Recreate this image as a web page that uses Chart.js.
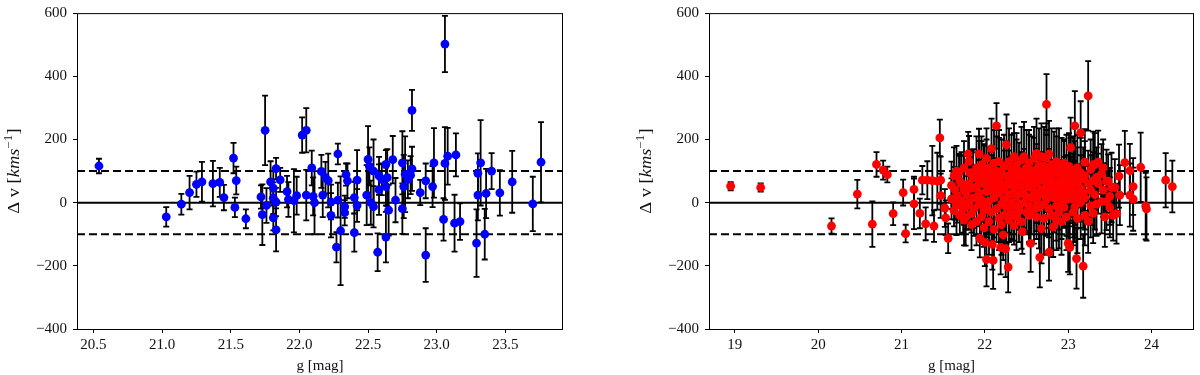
<!DOCTYPE html>
<html>
<head>
<meta charset="utf-8">
<script src="https://cdn.jsdelivr.net/npm/chart.js@4.4.1/dist/chart.umd.min.js"></script>
<style>
  html, body { margin: 0; padding: 0; background: #fff; }
  #wrap { position: relative; width: 1200px; height: 375px; }
  .panel { position: absolute; top: 0; width: 600px; height: 375px; }
</style>
</head>
<body>
<div id="wrap">
  <div class="panel" style="left:0"><canvas id="leftChart" width="600" height="375"></canvas></div>
  <div class="panel" style="left:600px"><canvas id="rightChart" width="600" height="375"></canvas></div>
</div>
<script>
// ── DATA ─────────────────────────────────────────
// left panel: g magnitude, velocity offset, error (km/s)
const gBlue = [
  20.54, 21.03, 21.14, 21.20, 21.25, 21.29, 21.37, 21.42, 21.45, 21.52,
  21.54, 21.53, 21.61, 21.75, 21.72, 21.73, 21.76, 21.79, 21.81, 21.81,
  21.81, 21.83, 21.83, 21.83, 21.86, 21.91, 21.92, 21.96, 21.98, 22.02,
  22.05, 22.05, 22.09, 22.10, 22.11, 22.16, 22.17, 22.19, 22.21, 22.23,
  22.23, 22.27, 22.28, 22.28, 22.30, 22.33, 22.33, 22.34, 22.35, 22.40,
  22.40, 22.42, 22.42, 22.50, 22.49, 22.51, 22.52, 22.54, 22.54, 22.57,
  22.58, 22.58, 22.60, 22.63, 22.63, 22.64, 22.63, 22.65, 22.68, 22.70,
  22.75, 22.75, 22.76, 22.77, 22.79, 22.81, 22.82, 22.82, 22.88, 22.92,
  22.92, 22.97, 22.98, 23.06, 23.06, 23.05, 23.08, 23.13, 23.14, 23.17,
  23.29, 23.30, 23.30, 23.32, 23.35, 23.36, 23.40, 23.46, 23.55, 23.70,
  23.76
];
const dvBlue = [
  116, -45, -5, 32, 58, 66, 60, 64, 16, 141,
  70, -15, -51, 229, 18, -38, -9, 66, 46, 14,
  -48, 108, 2, -86, 72, 35, 10, 6, 22, 214,
  229, 24, 110, 20, 0, 99, 24, 79, 70, -40,
  2, -141, 154, 8, -89, -13, -32, 89, 69, 16,
  -95, 71, -9, 137, 24, 115, 0, 100, -13, -157,
  85, 41, 74, 121, 51, 79, -109, -24, 136, 8,
  126, -19, 51, 90, 74, 87, 292, 107, 32, 69,
  -166, 51, 126, 502, 124, -53, 147, -65, 151, -60,
  -128, 93, 24, 126, -100, 29, 100, 31, 66, -4,
  128
];
const errBlue = [
  23, 31, 33, 53, 40, 63, 72, 46, 40, 48,
  44, 31, 30, 110, 37, 96, 55, 65, 55, 50,
  40, 34, 45, 68, 38, 50, 55, 100, 60, 56,
  70, 80, 55, 60, 100, 52, 70, 50, 85, 70,
  55, 48, 33, 55, 172, 35, 40, 35, 55, 50,
  60, 95, 52, 105, 95, 60, 70, 100, 65, 60,
  60, 80, 50, 45, 60, 90, 80, 80, 75, 70,
  100, 80, 100, 120, 60, 60, 65, 70, 40, 55,
  85, 65, 110, 89, 115, 67, 90, 90, 68, 58,
  107, 63, 80, 135, 80, 78, 57, 72, 98, 86,
  127
];

// right panel
const gRed = [
  18.95, 19.31, 20.16, 20.47, 20.65, 20.70, 20.78, 20.83, 20.90, 21.02,
  21.05, 21.15, 21.15, 21.22, 21.29, 21.39, 21.25, 21.31, 21.37, 21.43,
  21.46, 21.47, 21.47, 21.52, 21.53, 21.56, 21.69, 21.70, 21.64, 21.67,
  21.64, 21.74, 21.70, 21.77, 21.80, 21.81, 21.94, 21.90, 21.86, 21.82,
  21.60, 21.60, 21.63, 21.63, 21.66, 21.66, 21.72, 21.72, 21.75, 21.75,
  21.75, 21.78, 21.78, 21.81, 21.81, 21.84, 21.84, 21.84, 21.84, 21.87,
  21.87, 21.90, 21.90, 21.90, 21.93, 21.93, 21.93, 21.93, 21.96, 21.96,
  21.96, 21.96, 21.99, 21.99, 21.99, 21.99, 22.00, 22.02, 22.02, 22.02,
  22.02, 22.02, 22.05, 22.05, 22.05, 22.05, 22.08, 22.08, 22.08, 22.08,
  22.09, 22.11, 22.11, 22.11, 22.11, 22.14, 22.14, 22.14, 22.14, 22.10,
  22.17, 22.17, 22.17, 22.17, 22.20, 22.20, 22.20, 22.20, 22.19, 22.23,
  22.23, 22.23, 22.23, 22.22, 22.26, 22.26, 22.26, 22.26, 22.25, 22.29,
  22.29, 22.29, 22.29, 22.28,
  22.32, 22.32, 22.32, 22.32, 22.35, 22.35, 22.35, 22.35, 22.35, 22.38,
  22.38, 22.38, 22.38, 22.41, 22.41, 22.41, 22.41, 22.44, 22.44, 22.44,
  22.44, 22.47, 22.47, 22.47, 22.47, 22.45, 22.50, 22.50, 22.50, 22.50,
  22.53, 22.53, 22.53, 22.53, 22.53, 22.56, 22.56, 22.56, 22.55, 22.59,
  22.59, 22.59, 22.59, 22.62, 22.62, 22.62, 22.62, 22.62, 22.65, 22.65,
  22.65, 22.65, 22.66, 22.68, 22.68, 22.68, 22.68, 22.71, 22.71, 22.71,
  22.71, 22.71, 22.74, 22.74, 22.74, 22.74, 22.74, 22.77, 22.77, 22.77,
  22.77, 22.77, 22.80, 22.80, 22.80, 22.80, 22.83, 22.83, 22.83, 22.82,
  22.86, 22.86, 22.86, 22.86, 22.86, 22.89, 22.89, 22.89, 22.89, 22.92,
  22.92, 22.92, 22.92, 22.95, 22.95, 22.95, 22.95, 22.98, 22.98, 22.98,
  22.98,
  23.00, 23.01, 23.01, 23.01, 23.02, 23.03, 23.03, 23.03, 23.06, 23.06,
  23.06, 23.06, 23.08, 23.08, 23.08, 23.08, 23.10, 23.11, 23.11, 23.11,
  23.11, 23.15, 23.15, 23.15, 23.15, 23.18, 23.18, 23.18, 23.20, 23.20,
  23.20, 23.20, 23.24, 23.24, 23.24, 23.27, 23.27, 23.27, 23.30, 23.30,
  23.30, 23.32, 23.32, 23.34, 23.34, 23.36, 23.36, 23.40, 23.40, 23.42,
  23.42, 23.44, 23.46, 23.46, 23.48, 23.50, 23.50, 23.52, 23.54, 23.56,
  23.58, 23.61, 23.62, 23.68, 23.74, 23.74, 23.78, 23.78, 23.87, 23.93,
  23.94, 24.17, 24.25
];
const dvRed = [
  52, 48, -74, 27, -68, 121, 103, 89, -35, 32,
  -98, 42, -4, -34, -67, -74, 71, 71, 70, 68,
  205, 71, 22, -17, -48, -113, 94, 68, 42, 22,
  6, -20, -40, -46, 154, 131, -113, 89, 79, 94,
  55, 12, 85, -25, 100, -8, 60, 5, 110, 40,
  -55, 25, -10, 60, 0, 95, 45, -35, -70, 15,
  -20, 110, 50, -60, 154, 70, 30, -5, 120, 85,
  10, -45, 60, 100, -25, -80, -126, 140, 75, 35,
  -10, -180, 110, 55, 5, -60, 171, 90, 40, -30,
  -132, 125, 70, 15, -85, 243, 100, 50, -20, -183,
  130, 80, 30, -50, 95, 60, -5, -70, -142, 115,
  40, 10, -40, -102, 184, 85, 55, -15, -146, 130,
  70, 25, -55, -204,
  105, 60, 0, -35, 146, 90, 40, -10, -73, 120,
  75, 20, -45, 100, 55, -5, -25, 135, 80, 30,
  -61, 146, 95, 45, 0, -92, 110, 65, 20, -30,
  125, 85, 50, -10, -40, 100, 60, 15, -129, 140,
  80, 35, -20, 156, 105, 60, 5, -45, 120, 70,
  25, -15, -173, 146, 90, 40, -82, 115, 75, 30,
  -5, -50, 311, 141, 100, 55, 10, 154, 85, 45,
  -20, -157, 120, 70, 25, -40, 100, 60, 15, -77,
  130, 90, 40, -10, -55, 110, 65, 20, -30, 95,
  50, 5, -60, 125, 80, 35, -15, 105, 60, 10,
  -45,
  -129, 115, 70, 25, -142, 174, 90, 40, 100, 55,
  10, -30, 243, 80, 30, -15, -177, 110, 60, 20,
  -50, 221, 95, 45, 0, 75, 30, -201, 128, 85,
  15, -40, 338, 60, -59, 105, 40, -10, 120, 70,
  -33, 120, 25, 80, -5, 128, 60, 3, 90, 40,
  110, -45, 3, 68, 68, 20, -15, 48, -40, 48,
  -35, 84, 24, 127, 101, 24, 51, 11, 112, -11,
  -20, 71, 51
];
const errRed = [
  13, 13, 24, 45, 72, 39, 30, 25, 36, 41,
  28, 40, 80, 47, 52, 50, 45, 60, 110, 90,
  58, 75, 70, 60, 55, 47, 60, 80, 70, 85,
  60, 75, 60, 90, 70, 80, 60, 70, 90, 65,
  75, 65, 90, 50, 80, 95, 100, 60, 85, 110,
  80, 110, 55, 95, 85, 70, 120, 60, 80, 95,
  85, 100, 60, 75, 80, 125, 105, 55, 90, 110,
  65, 80, 120, 85, 105, 60, 75, 95, 125, 70,
  100, 85, 65, 115, 95, 105, 95, 60, 120, 90,
  80, 105, 70, 125, 95, 72, 110, 65, 105, 90,
  100, 125, 70, 100, 105, 60, 120, 95, 85, 100,
  125, 65, 105, 80, 95, 110, 60, 115, 90, 105,
  95, 120, 70, 80,
  110, 65, 120, 80, 105, 130, 70, 110, 60, 100,
  125, 55, 105, 90, 70, 120, 60, 105, 75, 130,
  85, 110, 60, 125, 95, 70, 120, 80, 110, 65,
  105, 130, 70, 120, 85, 110, 60, 115, 90, 100,
  125, 75, 110, 110, 65, 125, 95, 70, 115, 80,
  110, 130, 95, 105, 60, 120, 110, 125, 70, 110,
  95, 115, 96, 110, 130, 65, 115, 105, 75, 125,
  90, 90, 115, 60, 110, 105, 125, 70, 110, 95,
  105, 120, 65, 110, 95, 125, 70, 105, 115, 110,
  60, 120, 105, 75, 115, 110, 65, 110, 90, 115,
  105,
  90, 105, 110, 100, 85, 95, 115, 105, 110, 100,
  120, 105, 110, 115, 100, 110, 95, 105, 115, 100,
  110, 100, 110, 105, 115, 100, 110, 100, 105, 110,
  100, 95, 110, 105, 100, 95, 110, 100, 105, 90,
  95, 100, 110, 95, 100, 100, 95, 100, 95, 85,
  90, 95, 90, 100, 85, 90, 95, 110, 80, 90,
  95, 100, 95, 100, 85, 100, 90, 100, 110, 105,
  100, 86, 82
];

// axes
const xTicksLeft  = [20.5, 21.0, 21.5, 22.0, 22.5, 23.0, 23.5];
const xTicksRight = [19, 20, 21, 22, 23, 24];
const yTicks      = [-400, -200, 0, 200, 400, 600];
const xRangeLeft  = [20.38, 23.92];
const xRangeRight = [18.69, 24.51];
const yRange      = [-400, 600];
const solidLevels  = [0];
const dashedLevels = [100, -100];

const FONT = "'Liberation Serif', 'DejaVu Serif', serif";

// ── PLUGINS ───────────────────────────────────────
// vertical error bars with caps, drawn right before the marker dataset
const errorBars = {
  id: 'errorBars',
  beforeDatasetDraw(chart, args) {
    const ds = chart.data.datasets[args.index];
    if (!ds.errs) return;
    const { ctx, chartArea: a, scales: { x, y } } = chart;
    ctx.save();
    ctx.beginPath();
    ctx.rect(a.left, a.top, a.right - a.left, a.bottom - a.top);
    ctx.clip();
    ctx.strokeStyle = '#000';
    ctx.lineWidth = 1.8;
    ds.data.forEach((p, i) => {
      const e = ds.errs[i];
      const px = x.getPixelForValue(p.x);
      const top = y.getPixelForValue(p.y + e);
      const bot = y.getPixelForValue(p.y - e);
      ctx.beginPath();
      ctx.moveTo(px, top); ctx.lineTo(px, bot);
      ctx.moveTo(px - 3, top); ctx.lineTo(px + 3, top);
      ctx.moveTo(px - 3, bot); ctx.lineTo(px + 3, bot);
      ctx.stroke();
    });
    ctx.restore();
  }
};

// box frame + axis titles
const frame = {
  id: 'frame',
  afterDatasetsDraw(chart) {
    const { ctx, chartArea: a } = chart;
    ctx.save();
    ctx.strokeStyle = '#000';
    ctx.lineWidth = 1;
    ctx.strokeRect(a.left + 0.5, a.top + 0.5, a.right - a.left - 1, a.bottom - a.top);
    ctx.restore();
  },
  afterDraw(chart) {
    const { ctx, chartArea: a } = chart;
    ctx.save();
    ctx.fillStyle = '#111';
    // x title
    ctx.font = '15px ' + FONT;
    ctx.textAlign = 'center';
    ctx.textBaseline = 'middle';
    ctx.fillText('g [mag]', (a.left + a.right) / 2, 366);

    // y title: Δ v [kms⁻¹], rotated
    const parts = [
      { t: '\u0394 v [', f: '16px ' + FONT, dy: 0 },
      { t: 'kms', f: 'italic 16px ' + FONT, dy: 0 },
      { t: '\u22121', f: '11.5px ' + FONT, dy: -6.5 },
      { t: ']', f: '16px ' + FONT, dy: 0 }
    ];
    let total = 0;
    parts.forEach(p => { ctx.font = p.f; p.w = ctx.measureText(p.t).width; total += p.w; });
    const k = Math.min(1.15, 86 / total);
    const cx = a.left - 62;
    const cy = (a.top + a.bottom) / 2;
    ctx.translate(cx, cy);
    ctx.rotate(-Math.PI / 2);
    ctx.scale(k, 1);
    ctx.textAlign = 'left';
    ctx.textBaseline = 'middle';
    let xx = -total / 2;
    parts.forEach(p => {
      ctx.font = p.f;
      ctx.fillText(p.t, xx, p.dy);
      xx += p.w;
    });
    ctx.restore();
  }
};

// ── BUILD A PANEL ─────────────────────────────────
function makePanel(id, opt) {
  const xr = opt.xRange;
  const refLine = (lvl, dashed) => ({
    type: 'line',
    data: [{ x: xr[0], y: lvl }, { x: xr[1], y: lvl }],
    borderColor: '#000',
    borderWidth: 2,
    borderDash: dashed ? [8, 4] : [],
    pointRadius: 0,
    fill: false,
    order: 5
  });

  const datasets = [
    ...solidLevels.map(l => refLine(l, false)),
    ...dashedLevels.map(l => refLine(l, true)),
    {
      type: 'scatter',
      data: opt.g.map((g, i) => ({ x: g, y: opt.dv[i] })),
      errs: opt.err,
      backgroundColor: opt.color,
      borderColor: opt.color,
      borderWidth: 0,
      pointRadius: 4.4,
      pointHoverRadius: 4.4,
      order: 1
    }
  ];

  return new Chart(document.getElementById(id), {
    type: 'scatter',
    data: { datasets },
    options: {
      responsive: false,
      animation: false,
      events: [],
      layout: { padding: { left: 0, top: 7, right: opt.padRight, bottom: 0 } },
      plugins: { legend: { display: false }, tooltip: { enabled: false } },
      scales: {
        x: {
          type: 'linear',
          min: xr[0], max: xr[1],
          afterBuildTicks: s => { s.ticks = opt.xTicks.map(v => ({ value: v })); },
          afterFit: s => { s.height = 46; },
          grid: { drawOnChartArea: false, drawTicks: true, tickLength: 4, tickWidth: 1, tickColor: '#000' },
          border: { display: false },
          ticks: {
            color: '#111', padding: 5, autoSkip: false, maxRotation: 0,
            font: { family: FONT, size: 15, lineHeight: 0.95 },
            callback: v => v.toFixed(opt.decimals)
          }
        },
        y: {
          type: 'linear',
          min: yRange[0], max: yRange[1],
          afterBuildTicks: s => { s.ticks = yTicks.map(v => ({ value: v })); },
          afterFit: s => { s.width = opt.yWidth; },
          grid: { drawOnChartArea: false, drawTicks: true, tickLength: 4, tickWidth: 1, tickColor: '#000' },
          border: { display: false },
          ticks: {
            color: '#111', padding: 6,
            font: { family: FONT, size: 15, lineHeight: 0.95 },
            callback: v => String(v).replace('-', '\u2212')
          }
        }
      }
    },
    plugins: [errorBars, frame]
  });
}

makePanel('leftChart', {
  g: gBlue, dv: dvBlue, err: errBlue, color: '#0000ff',
  xRange: xRangeLeft, xTicks: xTicksLeft, decimals: 1,
  yWidth: 77, padRight: 37
});

makePanel('rightChart', {
  g: gRed, dv: dvRed, err: errRed, color: '#ff0000',
  xRange: xRangeRight, xTicks: xTicksRight, decimals: 0,
  yWidth: 109, padRight: 6
});
</script>
</body>
</html>
